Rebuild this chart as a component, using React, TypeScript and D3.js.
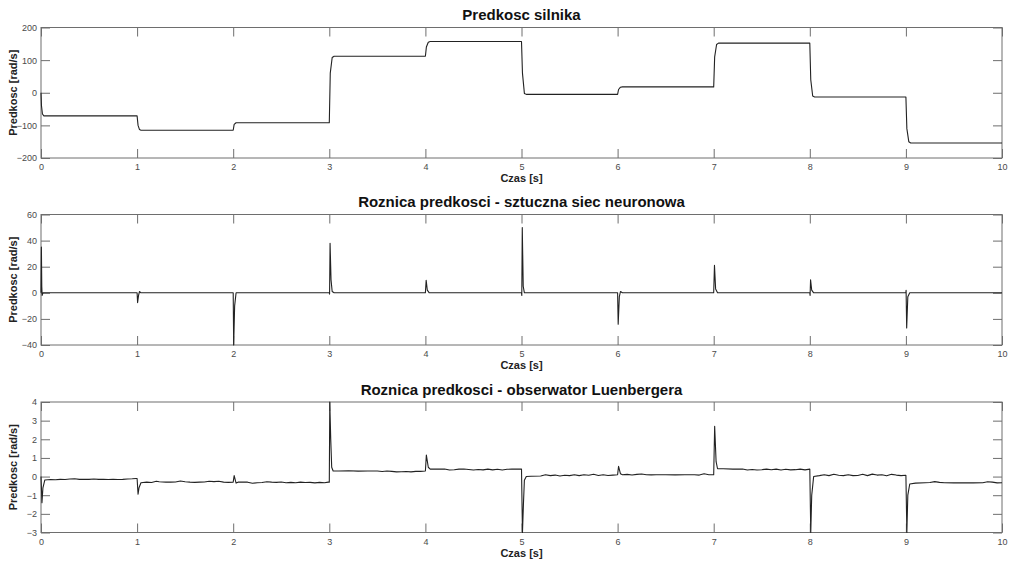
import React, { useRef, useEffect } from 'react';
import * as d3 from 'd3';

// time [s], value pairs
const motorSpeed: [number, number][] = [
  [0, 0], [0.005, -40], [0.015, -65], [0.03, -71], [1.0, -71], [1.01, -100], [1.025, -113], [1.04, -115],
  [2.0, -115], [2.01, -97], [2.03, -92], [3.0, -92], [3.01, 60], [3.03, 108], [3.05, 112],
  [4.0, 112], [4.01, 140], [4.03, 155], [4.05, 157], [5.0, 157], [5.01, 60], [5.03, -2], [5.05, -5],
  [6.0, -5], [6.01, 10], [6.03, 17], [6.05, 18], [7.0, 18], [7.01, 110], [7.03, 148], [7.05, 152],
  [8.0, 152], [8.01, 40], [8.03, -10], [8.05, -13], [9.0, -13], [9.01, -110], [9.03, -150], [9.05, -154],
  [10, -154],
];

const nnError: [number, number][] = [
  [0, 0], [0.004, 35], [0.008, 5], [0.012, -2], [0.02, 0],
  [1.0, 0], [1.005, -7.5], [1.015, -2], [1.025, 1], [1.04, 0],
  [2.0, 0], [2.005, -40], [2.015, -10], [2.03, 0],
  [3.0, 0], [3.003, -1], [3.008, 38], [3.018, 10], [3.03, 1], [3.05, 0],
  [4.0, 0], [4.008, 9.5], [4.02, 2], [4.04, 0],
  [5.0, 0], [5.003, -2], [5.008, 50], [5.018, 5], [5.03, 0],
  [6.0, 0], [6.006, -24], [6.018, -3], [6.03, 1], [6.05, 0],
  [7.0, 0], [7.008, 21], [7.02, 3], [7.04, 0],
  [8.0, 0], [8.003, -2], [8.008, 10], [8.02, 2], [8.04, 0],
  [9.0, 0], [9.002, 2], [9.008, -27], [9.02, -3], [9.04, 0], [10, 0],
];

const luenError: [number, number][] = [
  [0, 0], [0.01, -1.4], [0.02, -0.6], [0.04, -0.18], [0.1, -0.16], [0.15, -0.17], [0.2, -0.15], [0.25, -0.16],
  [0.3, -0.13], [0.35, -0.12], [0.4, -0.15], [0.45, -0.14], [0.5, -0.15], [0.55, -0.13], [0.6, -0.15],
  [0.65, -0.14], [0.7, -0.16], [0.75, -0.15], [0.8, -0.16], [0.85, -0.15], [0.9, -0.13], [0.95, -0.12], [0.99, -0.1],
  [1.0, -0.1], [1.01, -0.95], [1.02, -0.6], [1.04, -0.33], [1.1, -0.3], [1.15, -0.32], [1.2, -0.25], [1.23, -0.28],
  [1.3, -0.3], [1.35, -0.3], [1.4, -0.29], [1.45, -0.24], [1.5, -0.28], [1.55, -0.3], [1.6, -0.31], [1.65, -0.3],
  [1.7, -0.29], [1.75, -0.25], [1.8, -0.27], [1.85, -0.25], [1.9, -0.3], [1.95, -0.31], [2.0, -0.3],
  [2.01, 0.05], [2.03, -0.35], [2.05, -0.3], [2.1, -0.3], [2.15, -0.3], [2.2, -0.36], [2.25, -0.33], [2.3, -0.32],
  [2.35, -0.28], [2.4, -0.3], [2.45, -0.31], [2.5, -0.29], [2.55, -0.33], [2.6, -0.31], [2.65, -0.33], [2.7, -0.3],
  [2.75, -0.32], [2.8, -0.31], [2.85, -0.34], [2.9, -0.31], [2.95, -0.33], [2.99, -0.3],
  [3.0, -0.3], [3.005, 4.0], [3.015, 2.0], [3.025, 0.5], [3.04, 0.3], [3.1, 0.3], [3.2, 0.31], [3.3, 0.29],
  [3.4, 0.3], [3.5, 0.3], [3.55, 0.27], [3.6, 0.3], [3.65, 0.28], [3.7, 0.25], [3.75, 0.26], [3.8, 0.27],
  [3.85, 0.25], [3.9, 0.28], [3.95, 0.28], [4.0, 0.3],
  [4.01, 1.15], [4.03, 0.5], [4.05, 0.4], [4.1, 0.4], [4.2, 0.41], [4.25, 0.35], [4.3, 0.37], [4.35, 0.4],
  [4.4, 0.41], [4.45, 0.38], [4.5, 0.35], [4.55, 0.38], [4.6, 0.36], [4.65, 0.4], [4.7, 0.36], [4.75, 0.39],
  [4.8, 0.35], [4.85, 0.39], [4.9, 0.4], [4.95, 0.41], [5.0, 0.4],
  [5.01, -3.0], [5.02, -1.5], [5.03, -0.2], [5.05, 0.0], [5.1, 0.02], [5.2, 0.03], [5.25, 0.1], [5.3, 0.05],
  [5.35, 0.08], [5.4, 0.03], [5.45, 0.07], [5.5, 0.05], [5.55, 0.1], [5.6, 0.05], [5.65, 0.1], [5.7, 0.07],
  [5.75, 0.12], [5.8, 0.06], [5.85, 0.1], [5.9, 0.06], [5.95, 0.08], [6.0, 0.1],
  [6.01, 0.55], [6.03, 0.15], [6.05, 0.1], [6.1, 0.12], [6.15, 0.08], [6.2, 0.12], [6.25, 0.14], [6.3, 0.1],
  [6.35, 0.09], [6.4, 0.1], [6.5, 0.1], [6.6, 0.09], [6.7, 0.1], [6.8, 0.1], [6.85, 0.08], [6.9, 0.15],
  [6.95, 0.1], [7.0, 0.1],
  [7.01, 2.7], [7.025, 0.8], [7.04, 0.42], [7.1, 0.42], [7.2, 0.4], [7.3, 0.41], [7.35, 0.35], [7.4, 0.38],
  [7.45, 0.35], [7.5, 0.37], [7.55, 0.4], [7.6, 0.37], [7.65, 0.4], [7.7, 0.35], [7.75, 0.39], [7.8, 0.36],
  [7.85, 0.37], [7.9, 0.4], [7.95, 0.36], [8.0, 0.4],
  [8.01, -3.0], [8.02, -1.0], [8.04, 0.0], [8.1, 0.05], [8.15, 0.1], [8.2, 0.05], [8.25, 0.12], [8.3, 0.07],
  [8.35, 0.05], [8.4, 0.1], [8.45, 0.05], [8.5, 0.06], [8.55, 0.12], [8.6, 0.05], [8.65, 0.13], [8.7, 0.08],
  [8.75, 0.1], [8.8, 0.04], [8.85, 0.12], [8.9, 0.08], [8.95, 0.05], [9.0, 0.07],
  [9.01, -3.0], [9.02, -1.0], [9.04, -0.4], [9.1, -0.35], [9.2, -0.33], [9.25, -0.32], [9.3, -0.27], [9.35, -0.31],
  [9.4, -0.33], [9.5, -0.34], [9.6, -0.33], [9.7, -0.34], [9.8, -0.33], [9.85, -0.28], [9.9, -0.3],
  [9.95, -0.34], [10, -0.33],
];

const timeTicks = [0, 1, 2, 3, 4, 5, 6, 7, 8, 9, 10];
const speedTicks = [-200, -100, 0, 100, 200];
const nnTicks = [-40, -20, 0, 20, 40, 60];
const luenTicks = [-3, -2, -1, 0, 1, 2, 3, 4];

const titles = [
  'Predkosc silnika',
  'Roznica predkosci - sztuczna siec neuronowa',
  'Roznica predkosci - obserwator Luenbergera',
];

const W = 1009;
const H = 562;

const App = () => {
  const svgRef = useRef<SVGSVGElement>(null);

  useEffect(() => {
    document.body.style.margin = '0';
    const svg = d3.select(svgRef.current);
    svg.selectAll('*').remove();

    const left = 41;
    const right = 1002;
    const panels = [
      { data: motorSpeed, ticks: speedTicks, dom: [-200, 200], top: 27.5, bottom: 158 },
      { data: nnError, ticks: nnTicks, dom: [-40, 60], top: 214.5, bottom: 345 },
      { data: luenError, ticks: luenTicks, dom: [-3, 4], top: 402, bottom: 532.5 },
    ];

    const font = '"Liberation Sans", Arial, Helvetica, sans-serif';
    const axisColor = '#6e6e6e';

    panels.forEach((p, i) => {
      const x = d3.scaleLinear().domain([0, 10]).range([left, right]);
      const y = d3.scaleLinear().domain(p.dom).range([p.bottom, p.top]);
      const g = svg.append('g');

      const style = (sel: any) => {
        sel.select('.domain').remove();
        sel.selectAll('line').attr('stroke', axisColor).attr('stroke-width', 1);
        sel.selectAll('text')
          .attr('fill', '#4a4a4a')
          .style('font-family', font)
          .style('font-size', '9px');
      };

      g.append('g')
        .attr('transform', `translate(0,${p.bottom})`)
        .call(d3.axisBottom(x).tickValues(timeTicks).tickSize(-9).tickPadding(6).tickFormat(d3.format('d')))
        .call(style);
      g.append('g')
        .attr('transform', `translate(0,${p.top})`)
        .call(d3.axisTop(x).tickValues(timeTicks).tickSize(-9).tickFormat(() => ''))
        .call(style);
      g.append('g')
        .attr('transform', `translate(${left},0)`)
        .call(d3.axisLeft(y).tickValues(p.ticks).tickSize(-9).tickPadding(4).tickFormat(d3.format('d')))
        .call(style);
      g.append('g')
        .attr('transform', `translate(${right},0)`)
        .call(d3.axisRight(y).tickValues(p.ticks).tickSize(-9).tickFormat(() => ''))
        .call(style);

      g.append('rect')
        .attr('x', left)
        .attr('y', p.top)
        .attr('width', right - left)
        .attr('height', p.bottom - p.top)
        .attr('fill', 'none')
        .attr('stroke', axisColor)
        .attr('stroke-width', 1);

      const line = d3.line<[number, number]>()
        .x((d) => x(d[0]))
        .y((d) => y(d[1]));

      g.append('path')
        .datum(p.data)
        .attr('d', line)
        .attr('fill', 'none')
        .attr('stroke', '#222')
        .attr('stroke-width', 1.1)
        .attr('stroke-linejoin', 'round');

      g.append('text')
        .attr('x', (left + right) / 2)
        .attr('y', p.top - 12.5)
        .attr('dy', '0.35em')
        .attr('text-anchor', 'middle')
        .style('font-family', font)
        .style('font-size', '15px')
        .style('font-weight', 'bold')
        .attr('fill', '#111')
        .text(titles[i]);

      g.append('text')
        .attr('x', (left + right) / 2)
        .attr('y', p.bottom + 20.5)
        .attr('dy', '0.35em')
        .attr('text-anchor', 'middle')
        .style('font-family', font)
        .style('font-size', '11px')
        .style('font-weight', 'bold')
        .attr('fill', '#222')
        .text('Czas [s]');

      g.append('text')
        .attr('transform', `translate(13.5,${(p.top + p.bottom) / 2}) rotate(-90)`)
        .attr('dy', '0.35em')
        .attr('text-anchor', 'middle')
        .style('font-family', font)
        .style('font-size', '11px')
        .style('font-weight', 'bold')
        .attr('fill', '#222')
        .text('Predkosc [rad/s]');
    });
  }, []);

  return (
    <svg ref={svgRef} width={W} height={H} style={{ display: 'block', background: '#fff' }}></svg>
  );
};

export default App;
